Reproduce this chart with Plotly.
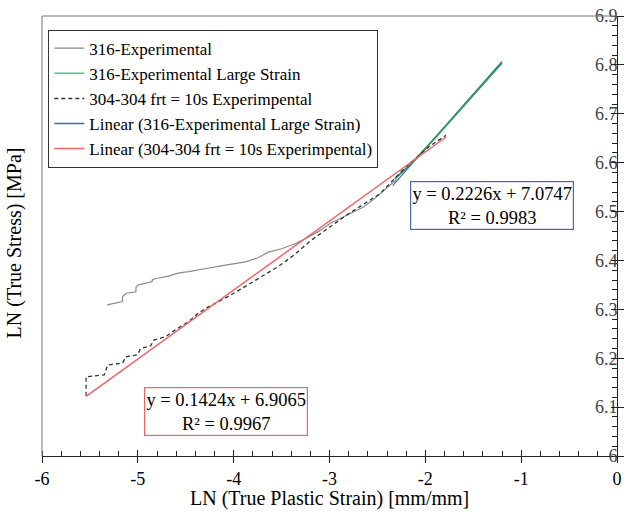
import plotly.graph_objects as go

# ---- data ----
exp316_x = [-5.32, -5.16, -5.16, -5.12, -5.02, -5.02, -4.99, -4.85, -4.85, -4.81, -4.68,
            -4.58, -4.47, -4.37, -4.27, -4.13, -4.00, -3.88, -3.75, -3.64, -3.50, -3.36,
            -3.23, -3.10, -2.99, -2.85, -2.72, -2.64, -2.52, -2.41, -2.30]
exp316_y = [6.309, 6.316, 6.326, 6.333, 6.336, 6.345, 6.350, 6.357, 6.360, 6.363, 6.368,
            6.374, 6.377, 6.380, 6.384, 6.389, 6.393, 6.397, 6.405, 6.417, 6.424, 6.434,
            6.447, 6.461, 6.476, 6.489, 6.501, 6.510, 6.528, 6.547, 6.566]

large316_x = [-2.32, -2.2, -2.1, -2.0, -1.9, -1.8, -1.7, -1.6, -1.5, -1.4, -1.3, -1.2]
large316_y = [6.567, 6.588, 6.608, 6.628, 6.650, 6.672, 6.694, 6.716, 6.738, 6.760, 6.782, 6.804]

exp304_x = [-5.54, -5.54, -5.35, -5.315, -5.16, -5.125, -5.005, -4.97, -4.867, -4.833, -4.71,
            -4.61, -4.47, -4.37, -4.265, -4.06, -3.885, -3.71, -3.54, -3.37, -3.2, -2.82,
            -2.47, -2.2, -1.96, -1.785]
exp304_y = [6.123, 6.162, 6.166, 6.186, 6.190, 6.203, 6.207, 6.220, 6.225, 6.237, 6.244,
            6.258, 6.275, 6.292, 6.305, 6.326, 6.346, 6.367, 6.387, 6.411, 6.440, 6.493,
            6.537, 6.592, 6.633, 6.656]

fit316_x = [-2.34, -1.20]
fit316_y = [6.553, 6.807]
fit304_x = [-5.54, -1.78]
fit304_y = [6.122, 6.653]

names = ["316-Experimental", "316-Experimental Large Strain", "304-304 frt = 10s Experimpental",
         "Linear (316-Experimental Large Strain)", "Linear (304-304 frt = 10s Experimpental)"]

x_ticks = [-6, -5, -4, -3, -2, -1, 0]
x_ticktext = ["-6", "-5", "-4", "-3", "-2", "-1", "0"]
y_ticks = [6.0, 6.1, 6.2, 6.3, 6.4, 6.5, 6.6, 6.7, 6.8, 6.9]
y_ticktext = ["6", "6.1", "6.2", "6.3", "6.4", "6.5", "6.6", "6.7", "6.8", "6.9"]

eq316 = "y = 0.2226x + 7.0747<br>R² = 0.9983"
eq304 = "y = 0.1424x + 6.9065<br>R² = 0.9967"

FONT = "Liberation Serif"
C_GRAY, C_GREEN, C_DASH, C_BLUE, C_RED = "#8a8a8a", "#2e9a5e", "#333333", "#4a66b0", "#f06464"
C_GREEN_LEG = "#3ecf7f"
TICK = "#222222"

fig = go.Figure()
fig.add_trace(go.Scatter(x=exp316_x, y=exp316_y, mode="lines", name=names[0],
                         line=dict(color=C_GRAY, width=1.2)))
fig.add_trace(go.Scatter(x=fit316_x, y=fit316_y, mode="lines", name=names[3],
                         line=dict(color=C_BLUE, width=1.2), showlegend=False))
fig.add_trace(go.Scatter(x=large316_x, y=large316_y, mode="lines", name=names[1],
                         line=dict(color=C_GREEN, width=1.8), showlegend=False))
fig.add_trace(go.Scatter(x=exp304_x, y=exp304_y, mode="lines", name=names[2],
                         line=dict(color=C_DASH, width=1.3, dash="4px,3px"), showlegend=False))
# red fit drawn on the overlay axes (same ranges) so those axes get rendered
fig.add_trace(go.Scatter(x=fit304_x, y=fit304_y, mode="lines", name=names[4],
                         xaxis="x2", yaxis="y2",
                         line=dict(color=C_RED, width=1.5), showlegend=False))
# legend entries in reference order
leg_colors = [C_GRAY, C_GREEN_LEG, C_DASH, C_BLUE, C_RED]
leg_dash = ["solid", "solid", "4px,3px", "solid", "solid"]
for i in range(1, 5):
    fig.add_trace(go.Scatter(x=[None], y=[None], mode="lines", name=names[i],
                             line=dict(color=leg_colors[i], width=1.5, dash=leg_dash[i])))

fig.update_layout(
    width=629, height=519,
    margin=dict(l=42, r=6, t=16, b=63),
    paper_bgcolor="white", plot_bgcolor="white",
    font=dict(family=FONT, size=17, color="black"),
    showlegend=True,
    legend=dict(x=0.011, y=0.969, xanchor="left", yanchor="top",
                bordercolor="#333333", borderwidth=1, bgcolor="white",
                font=dict(family=FONT, size=17), itemwidth=30,
                tracegroupgap=0),
    xaxis=dict(range=[-6, 0], tickvals=x_ticks, ticktext=x_ticktext,
               ticks="outside", ticklen=6, tickcolor=TICK, tickwidth=1.3,
               showgrid=False, zeroline=False,
               showline=True, linecolor=TICK, linewidth=1.2, anchor="y",
               ticklabeloverflow="allow",
               minor=dict(dtick=0.2, tick0=0, ticks="inside", ticklen=5, tickcolor=TICK,
                          tickwidth=1.2, showgrid=False),
               tickfont=dict(family=FONT, size=18)),
    xaxis2=dict(range=[-6, 0], overlaying="x", anchor="y2", side="bottom",
                tickvals=x_ticks, ticks="inside", ticklen=6, tickcolor=TICK, tickwidth=1.3,
                showticklabels=False, showgrid=False, zeroline=False, showline=False),
    yaxis=dict(range=[6, 6.9], side="right", anchor="x", tickvals=y_ticks, ticktext=y_ticktext,
               ticks="outside", ticklen=6, tickcolor=TICK, tickwidth=1.3,
               ticklabelposition="inside", ticklabeloverflow="allow",
               showgrid=False, zeroline=False, showline=True, linecolor=TICK, linewidth=1.2,
               minor=dict(dtick=0.02, tick0=6, ticks="inside", ticklen=5, tickcolor=TICK,
                          tickwidth=1.2, showgrid=False),
               tickfont=dict(family=FONT, size=18)),
    yaxis2=dict(range=[6, 6.9], overlaying="y", anchor="x2", side="right",
                tickvals=y_ticks, ticks="inside", ticklen=6, tickcolor=TICK, tickwidth=1.3,
                showticklabels=False, showgrid=False, zeroline=False, showline=False),
)

# outer frame (top & left)
fig.add_shape(type="line", xref="paper", yref="paper", x0=0, x1=1, y0=1, y1=1,
              line=dict(color="#777777", width=1))
fig.add_shape(type="line", xref="paper", yref="paper", x0=0, x1=0, y0=0, y1=1,
              line=dict(color="#777777", width=1))

# equation boxes
fig.add_annotation(x=-1.301, y=6.512, xref="x", yref="y", text=eq316, showarrow=False,
                   font=dict(family=FONT, size=18.5), bgcolor="white",
                   bordercolor=C_BLUE, borderwidth=1.2, borderpad=0, width=162, height=47)
fig.add_annotation(x=-4.084, y=6.092, xref="x", yref="y", text=eq304, showarrow=False,
                   font=dict(family=FONT, size=18.5), bgcolor="white",
                   bordercolor=C_RED, borderwidth=1.2, borderpad=0, width=162, height=47)

# axis titles
fig.add_annotation(x=0.5, y=-0.097, xref="paper", yref="paper", yanchor="middle",
                   text="LN (True Plastic Strain) [mm/mm]", showarrow=False,
                   font=dict(family=FONT, size=20))
fig.add_annotation(x=-0.048, y=0.484, xref="paper", yref="paper", xanchor="center",
                   text="LN (True Stress) [MPa]", showarrow=False, textangle=-90,
                   font=dict(family=FONT, size=20))

fig.write_html("out.html")
